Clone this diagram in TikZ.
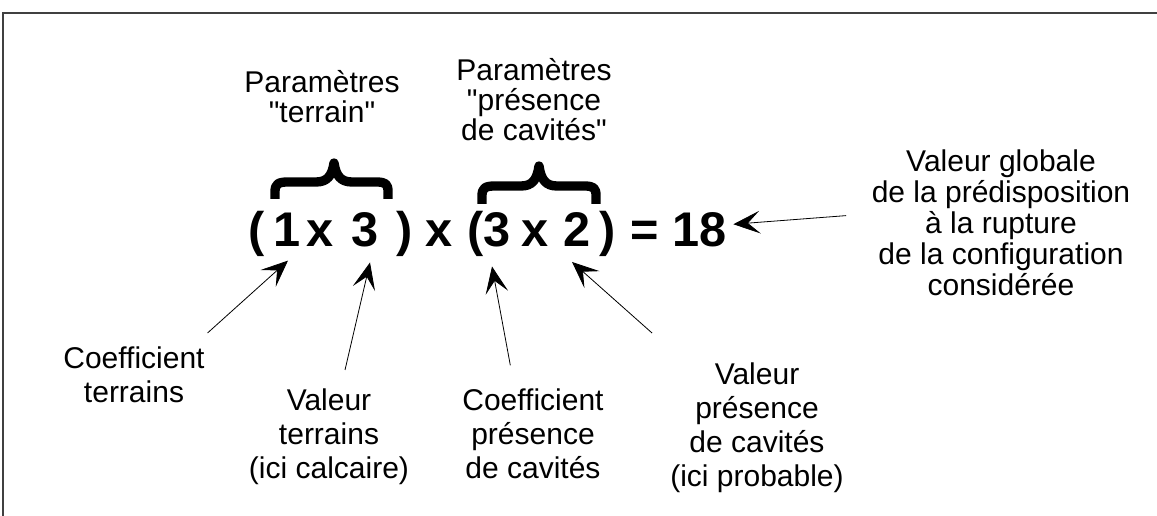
\documentclass[tikz,border=0pt]{standalone}
\usepackage{fontspec}
\setmainfont{Liberation Sans}
\usetikzlibrary{arrows.meta}

\begin{document}
\begin{tikzpicture}[x=0.75pt,y=-0.75pt,
    lbl/.style={align=center, inner sep=0pt, anchor=north, font=\fontsize{22.5}{25.5}\selectfont},
    sym/.style={inner sep=0pt, anchor=base, font=\fontsize{36.5}{40}\selectfont\bfseries},
    pointer/.style={-{Stealth[length=20pt,width=17pt,inset=9pt]}, line width=0.6pt},
    bracket/.style={line width=7pt, line cap=butt, line join=round}]
    \useasboundingbox (0,0) rectangle (1157,516);
    % Frame of the scanned figure
    \draw[black!75, line width=1pt] (3,530) -- (3,13) -- (1175,13);
    % The formula, one symbol per node
    \foreach \x/\s/\n in {257/{(}/lpA, 287/1/one, 320/x/xA, 365/3/three, 405/{)}/rpA,
                          439/x/times, 476/{(}/lpB, 497/3/threeB, 535/x/xB, 577/2/two,
                          608/{)}/rpB, 645/=/eq, 700/18/res}
        \node[sym] (\n) at (\x,247) {\s};
    % Braces over the two pairs
    \draw[bracket] (275,199) -- (275,192) .. controls (275,184) and (278,182) .. (288,182)
        -- (316,182) .. controls (327,182) and (332,176) .. (334,163)
        .. controls (336,176) and (341,182) .. (352,182) -- (376,182)
        .. controls (386,182) and (388,184) .. (388,192) -- (388,199);
    \draw[bracket] (482,204) -- (482,196) .. controls (482,188) and (485,186) .. (495,186)
        -- (521,186) .. controls (532,186) and (537,180) .. (539,166)
        .. controls (541,180) and (546,186) .. (557,186) -- (584,186)
        .. controls (594,186) and (596,188) .. (596,196) -- (596,204);
    % Labels above
    \node[lbl, font=\fontsize{22.5}{22.5}\selectfont] (parT) at (322,70)
        {Paramètres\\\textquotedbl terrain\textquotedbl};
    \node[lbl, font=\fontsize{22.5}{22.5}\selectfont] (parC) at (534,58)
        {Paramètres\\\textquotedbl présence\\de cavités\textquotedbl};
    % Labels below
    \node[lbl] (coefT) at (134,346) {Coefficient\\terrains};
    \node[lbl] (valT) at (329,388) {Valeur\\terrains\\(ici calcaire)};
    \node[lbl] (coefC) at (533,388) {Coefficient\\présence\\de cavités};
    \node[lbl] (valC) at (757,362) {Valeur\\présence\\de cavités\\(ici probable)};
    % Result label
    \node[lbl, font=\fontsize{22.5}{23.25}\selectfont] (glob) at (1001,149)
        {Valeur globale\\de la prédisposition\\à la rupture\\de la configuration\\considérée};
    % Pointers
    \draw[pointer] ([shift={(2pt,9.75pt)}]coefT.north east) -- ([shift={(0.75pt,-10pt)}]one.south);
    \draw[pointer] ([shift={(12pt,13.5pt)}]valT.north) -- ([shift={(3.75pt,-11pt)}]three.south);
    \draw[pointer] ([shift={(-17pt,17pt)}]coefC.north) -- ([shift={(-3.75pt,-14pt)}]threeB.south);
    \draw[pointer] ([shift={(-13.5pt,21.75pt)}]valC.north west) -- ([shift={(-3.75pt,-11pt)}]two.south);
    \draw[pointer] ([shift={(-19pt,5pt)}]glob.west) -- ([shift={(4.5pt,4.5pt)}]res.east);
\end{tikzpicture}
\end{document}
